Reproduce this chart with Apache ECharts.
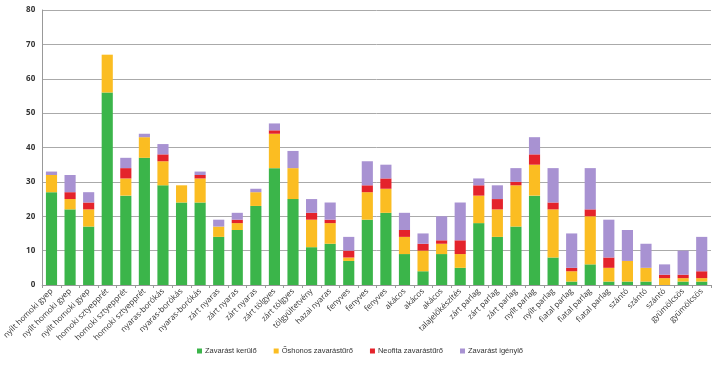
<!DOCTYPE html>
<html>
<head>
<meta charset="utf-8">
<script src="https://cdn.jsdelivr.net/npm/echarts@6/dist/echarts.min.js"></script>
<style>html,body{margin:0;padding:0;background:#fff}#c{width:720px;height:366px}</style>
</head>
<body>
<div id="c"></div>
<script>
const categories = [
  "nyílt homoki gyep","nyílt homoki gyep","nyílt homoki gyep",
  "homoki sztyepprét","homoki sztyepprét","homoki sztyepprét",
  "nyaras-borókás","nyaras-borókás","nyaras-borókás",
  "zárt nyaras","zárt nyaras","zárt nyaras",
  "zárt tölgyes","zárt tölgyes","tölgyültetvény","hazai nyaras",
  "fenyves","fenyves","fenyves",
  "akácos","akácos","akácos","talajelőkészítés",
  "zárt parlag","zárt parlag","zárt parlag",
  "nyílt parlag","nyílt parlag",
  "fiatal parlag","fiatal parlag","fiatal parlag",
  "szántó","szántó","szántó",
  "gyümölcsös","gyümölcsös"
];
const seriesNames = ["Zavarást kerülő","Őshonos zavarástűrő","Neofita zavarástűrő","Zavarást igénylő"];
const zavarastKerulo = [27,22,17,56,26,37,29,24,24,14,16,23,34,25,11,12,7,19,21,9,4,9,5,18,14,17,26,8,1,6,1,1,1,0,1,1];
const oshonosZavarasturo = [5,3,5,11,5,6,7,5,7,3,2,4,10,9,8,6,1,8,7,5,6,3,4,8,8,12,9,14,3,14,4,6,4,2,1,1];
const neofitaZavarasturo = [0,2,2,0,3,0,2,0,1,0,1,0,1,0,2,1,2,2,3,2,2,1,4,3,3,1,3,2,1,2,3,0,0,1,1,2];
const zavarastIgenylo = [1,5,3,0,3,1,3,0,1,2,2,1,2,5,4,5,4,7,4,5,3,7,11,2,4,4,5,10,10,12,11,9,7,3,7,10];
const yTicks = [0,10,20,30,40,50,60,70,80];
const colors = ["#3bb54a","#fbbd22","#e4232b","#a892d2"];

const chart = echarts.init(document.getElementById('c'), null, {renderer:'canvas'});
const dataSets = [zavarastKerulo, oshonosZavarasturo, neofitaZavarasturo, zavarastIgenylo];
chart.setOption({
  animation: false,
  backgroundColor: '#fff',
  textStyle: {fontFamily: 'Open Sans'},
  grid: {left: 41, right: 9, top: 10, bottom: 81},
  legend: {
    bottom: 6, left: 'center',
    itemWidth: 5, itemHeight: 5, itemGap: 17,
    icon: 'rect',
    textStyle: {fontSize: 7.5, color: '#333', fontFamily: 'Liberation Sans', padding: [0,0,0,-2]},
    data: seriesNames
  },
  xAxis: {
    type: 'category',
    data: categories,
    axisLine: {lineStyle: {color: '#999'}},
    axisTick: {show: true, alignWithLabel: false, lineStyle: {color: '#999'}, length: 3},
    axisLabel: {interval: 0, rotate: 45, fontSize: 8, color: '#333', margin: 5}
  },
  yAxis: {
    type: 'value',
    min: yTicks[0], max: yTicks[yTicks.length-1], interval: 10,
    axisLine: {show: true, lineStyle: {color: '#999'}},
    axisTick: {show: false},
    splitLine: {lineStyle: {color: '#aaa', width: 1}},
    axisLabel: {fontSize: 8, fontWeight: 'bold', color: '#333', margin: 7}
  },
  series: dataSets.map((d, i) => ({
    name: seriesNames[i],
    type: 'bar',
    stack: 'total',
    barWidth: '60%',
    itemStyle: {color: colors[i]},
    data: d
  }))
});
</script>
</body>
</html>
